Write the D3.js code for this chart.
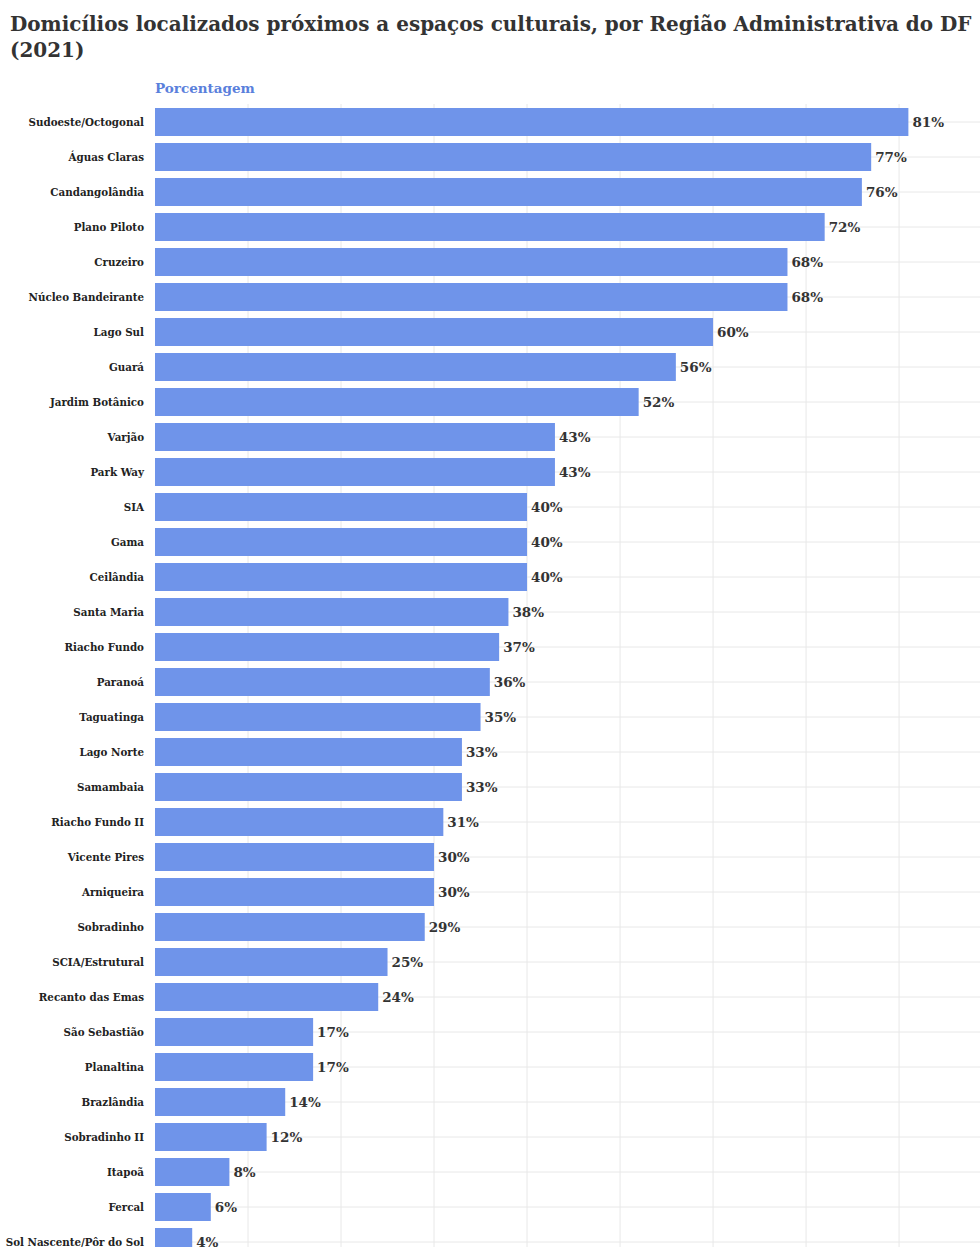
<!DOCTYPE html>
<html>
<head>
<meta charset="utf-8">
<script src="https://d3js.org/d3.v7.min.js"></script>
<style>
body{
	margin:0;
	background-color: white;
}
text{
	font-family: "DejaVu Serif", "Liberation Serif", serif;
}
</style>
</head>
<body>
<div id="chart"></div>
<script>
var regioes = ["Sudoeste/Octogonal","Águas Claras","Candangolândia","Plano Piloto","Cruzeiro",
	"Núcleo Bandeirante","Lago Sul","Guará","Jardim Botânico","Varjão","Park Way","SIA","Gama",
	"Ceilândia","Santa Maria","Riacho Fundo","Paranoá","Taguatinga","Lago Norte","Samambaia",
	"Riacho Fundo II","Vicente Pires","Arniqueira","Sobradinho","SCIA/Estrutural","Recanto das Emas",
	"São Sebastião","Planaltina","Brazlândia","Sobradinho II","Itapoã","Fercal","Sol Nascente/Pôr do Sol"];
var porcentagem = [81,77,76,72,68,68,60,56,52,43,43,40,40,40,38,37,36,35,33,33,31,30,30,29,25,24,17,17,14,12,8,6,4];
var gridTicks = [10,20,30,40,50,60,70,80];

var titulo = ["Domicílios localizados próximos a espaços culturais, por Região Administrativa do DF","(2021)"];

var W = 980, H = 1247;
var left = 155;

var svg = d3.select('#chart').append('svg')
	.attr('width',W)
	.attr('height',H);

var x = d3.scaleLinear().domain([0,88.7]).range([left,W]);
var y = d3.scaleBand().domain(regioes)
	.range([104.5,104.5+regioes.length*35])
	.paddingInner(0.2)
	.paddingOuter(0.1);

// title
var t = svg.append('text')
	.attr('x',10)
	.attr('fill','#333')
	.style('font-weight','bold')
	.style('font-size','22px');
t.selectAll('tspan').data(titulo).enter().append('tspan')
	.attr('x',10)
	.attr('y',function(d,i){ return 31+i*26; })
	.text(function(d){ return d; });
// shrink title line if too wide
var first = t.select('tspan').node();
var len = first.getComputedTextLength();
if(len > 962){
	t.style('font-size',(22*962/len)+'px');
}

svg.append('text')
	.attr('x',left)
	.attr('y',93)
	.attr('fill','#5a80dc')
	.style('font-weight','bold')
	.style('font-size','13.5px')
	.text('Porcentagem');

// grid
svg.append('g').selectAll('line').data(gridTicks).enter().append('line')
	.attr('x1',function(d){ return x(d); })
	.attr('x2',function(d){ return x(d); })
	.attr('y1',104)
	.attr('y2',H)
	.attr('stroke','#e8e8e8')
	.attr('stroke-width',1);

svg.append('g').selectAll('line').data(regioes).enter().append('line')
	.attr('x1',left)
	.attr('x2',W)
	.attr('y1',function(d){ return y(d)+y.bandwidth()/2; })
	.attr('y2',function(d){ return y(d)+y.bandwidth()/2; })
	.attr('stroke','#e8e8e8')
	.attr('stroke-width',1);

// bars
svg.append('g').selectAll('rect').data(porcentagem).enter().append('rect')
	.attr('x',x(0))
	.attr('y',function(d,i){ return y(regioes[i]); })
	.attr('width',function(d){ return x(d)-x(0); })
	.attr('height',y.bandwidth())
	.attr('fill','#6f94ea');

// value labels
svg.append('g').selectAll('text').data(porcentagem).enter().append('text')
	.attr('x',function(d){ return x(d)+4; })
	.attr('y',function(d,i){ return y(regioes[i])+y.bandwidth()/2; })
	.attr('dy','0.36em')
	.attr('fill','#333')
	.style('font-weight','bold')
	.style('font-size','13.5px')
	.text(function(d){ return d+'%'; });

// category labels
svg.append('g').selectAll('text').data(regioes).enter().append('text')
	.attr('x',144)
	.attr('y',function(d){ return y(d)+y.bandwidth()/2; })
	.attr('dy','0.36em')
	.attr('text-anchor','end')
	.attr('fill','#222')
	.style('font-weight','bold')
	.style('font-size','10.3px')
	.text(function(d){ return d; });
</script>
</body>
</html>
